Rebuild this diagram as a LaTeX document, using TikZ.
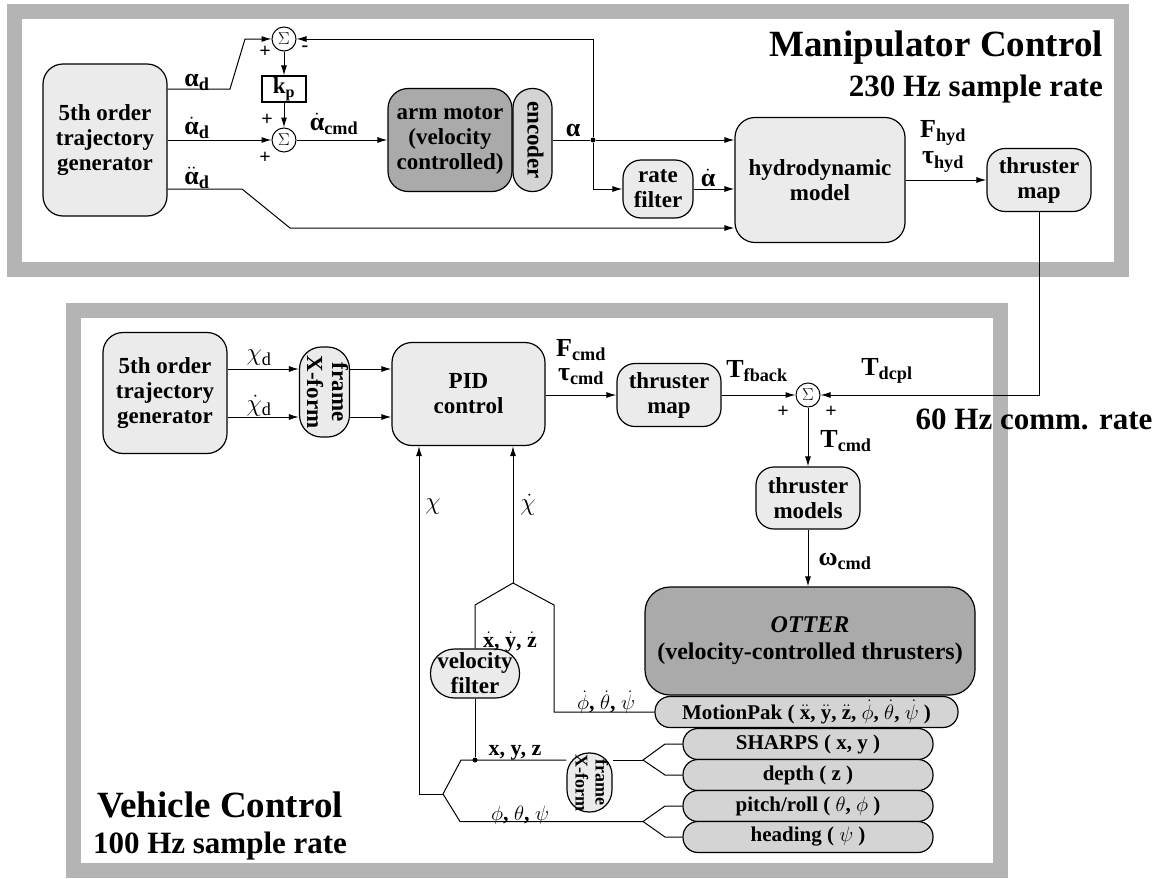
\documentclass[tikz,border=0pt]{standalone}
\usepackage{amsmath,bm}
\usepackage{fontspec}
\setmainfont{Liberation Serif}
\usetikzlibrary{arrows.meta}
\definecolor{framegray}{RGB}{180,180,180}
\definecolor{boxlight}{RGB}{235,235,235}
\definecolor{boxmid}{RGB}{212,212,212}
\definecolor{boxdark}{RGB}{170,170,170}
\newcommand{\sidetext}[1]{\rotatebox{-90}{\begin{tabular}{@{}c@{}}#1\end{tabular}}}

\begin{document}
\begin{tikzpicture}[x=1pt,y=-1pt,>={Latex[length=10pt,width=6pt]}]
\tikzset{
  every node/.style={font=\fontsize{23}{25}\selectfont\bfseries,align=center,inner sep=0pt},
  blk/.style={draw,line width=1.2pt,fill=boxlight,rounded corners=20pt},
  darkblk/.style={blk,fill=boxdark},
  sensor/.style={draw,line width=1.2pt,fill=boxmid,rounded corners=15pt,minimum width=250pt,minimum height=31pt,font=\fontsize{21}{23}\selectfont\bfseries},
  sumnode/.style={draw,line width=1pt,circle,fill=white,minimum size=24pt,font=\fontsize{17}{17}\selectfont},
  lbl/.style={font=\fontsize{26}{28}\selectfont\bfseries},
  slbl/.style={font=\fontsize{22}{24}\selectfont\bfseries},
  sgn/.style={font=\fontsize{20}{20}\selectfont\bfseries},
  dot/.style={circle,fill,minimum size=5pt},
  conn/.style={line width=1pt},
  frm/.style={draw=framegray,line width=15pt},
  bigttl/.style={font=\fontsize{37}{40}\selectfont\bfseries},
  smallttl/.style={font=\fontsize{31}{33}\selectfont\bfseries}
}
\useasboundingbox (0,0) rectangle (1158,878);

% frames
\draw[frm] (14.5,11.5) rectangle (1121.5,269.5);
\draw[frm] (73.5,310) rectangle (1000.5,870.5);

% manipulator control
\node[blk,minimum width=124pt,minimum height=152pt] (gen1) at (105,140) {5th order\\trajectory\\generator};
\node[sumnode] (sumA) at (284,39) {$\Sigma$};
\node[draw,line width=1.1pt,fill=white,minimum width=44pt,minimum height=26pt] (kp) at (284,89) {k$_\text{p}$};
\node[sumnode] (sumB) at (284,140) {$\Sigma$};
\node[darkblk,minimum width=124pt,minimum height=103pt] (arm) at (450,140) {arm motor\\(velocity\\controlled)};
\node[blk,fill=boxmid,rounded corners=19pt,minimum width=39pt,minimum height=103pt] (enc) at (532.5,140) {\sidetext{encoder}};
\node[dot] (jA) at (593,140) {};
\node[blk,minimum width=70pt,minimum height=58pt,rounded corners=18pt] (rate) at (658,189) {rate\\filter};
\node[blk,minimum width=170pt,minimum height=125pt] (hydro) at (820,180) {hydrodynamic\\model};
\node[blk,minimum width=104pt,minimum height=63pt,rounded corners=18pt] (tmapA) at (1039,180) {thruster\\map};

\coordinate (arow) at (0,89);
\coordinate (addrow) at (0,189);
\coordinate (adA) at (230,89);
\coordinate (adB) at (245,39);
\coordinate (addA) at (242,189);
\coordinate (addB) at (290,228);

\draw[conn,->] (gen1.east |- arow) -- (adA) -- (adB) -- (sumA);
\draw[conn,->] (gen1) -- (sumB);
\draw[conn,->] (gen1.east |- addrow) -- (addA) -- (addB) -- (hydro.west |- addB);
\draw[conn,->] (sumA) -- (kp);
\draw[conn,->] (kp) -- (sumB);
\draw[conn,->] (sumB) -- (arm);
\draw[conn] (enc) -- (jA);
\draw[conn,->] (jA) -- (hydro.west |- jA);
\draw[conn,->] (jA) |- (sumA);
\draw[conn,->] (jA) |- (rate);
\draw[conn,->] (rate) -- (hydro.west |- rate);
\draw[conn,->] (hydro) -- (tmapA);

\node[lbl] at (197,82) {α$_\text{d}$};
\node[lbl] at (197,128) {$\dot{\text{α}}_\text{d}$};
\node[lbl] at (197,178) {$\ddot{\text{α}}_\text{d}$};
\node[lbl] at (334,124) {$\dot{\text{α}}_\text{cmd}$};
\node[lbl] at (573,130) {α};
\node[lbl] at (708,178) {$\dot{\text{α}}$};
\node[lbl] at (943,133) {F$_\text{hyd}$};
\node[lbl] at (943,162) {τ$_\text{hyd}$};
\node[sgn] at (265,52) {+};
\node[sgn] at (305,49) {-};
\node[sgn] at (267,120) {+};
\node[sgn] at (265,158) {+};

\node[bigttl,anchor=base east] at (1103,56) {Manipulator Control};
\node[smallttl,anchor=base east] at (1103,96) {230 Hz sample rate};

% vehicle control
\node[blk,minimum width=124pt,minimum height=121pt] (gen2) at (165,393) {5th order\\trajectory\\generator};
\node[blk,minimum width=45pt,minimum height=90pt,rounded corners=22pt] (frmA) at (324.5,392) {\sidetext{frame\\X-form}};
\node[blk,minimum width=153pt,minimum height=103pt] (pid) at (468.5,394) {PID\\control};
\node[blk,minimum width=104pt,minimum height=63pt,rounded corners=18pt] (tmapB) at (669,395) {thruster\\map};
\node[sumnode] (sumC) at (808,395) {$\Sigma$};
\node[blk,minimum width=104pt,minimum height=62pt,rounded corners=18pt] (tmods) at (808,498) {thruster\\models};
\node[darkblk,minimum width=330pt,minimum height=108pt,rounded corners=25pt,font=\fontsize{24}{27}\selectfont\bfseries] (otter) at (810,641) {\textit{OTTER}\\(velocity-controlled thrusters)};
\node[sensor,minimum width=303pt] (mpak) at (806.5,712) {MotionPak ( $\ddot{\text{x}}$, $\ddot{\text{y}}$, $\ddot{\text{z}}$, $\dot\phi$, $\dot\theta$, $\dot\psi$ )};
\node[sensor] (sharps) at (808,744) {SHARPS ( x, y )};
\node[sensor] (depth) at (808,775) {depth ( z )};
\node[sensor] (pitch) at (808,806) {pitch/roll ( $\theta$, $\phi$ )};
\node[sensor] (heading) at (808,837) {heading ( $\psi$ )};
\node[blk,minimum width=89pt,minimum height=49pt,rounded corners=24pt] (vfilt) at (475,673.5) {velocity\\filter};
\node[blk,minimum width=45pt,minimum height=59pt,rounded corners=22pt,font=\fontsize{18}{20}\selectfont\bfseries] (frmB) at (589.5,782.5) {\sidetext{frame\\X-form}};
\node[dot] (jB) at (475,760) {};

\coordinate (xrow) at (0,369);
\coordinate (xdrow) at (0,417);
\coordinate (xcol) at (419,0);
\coordinate (xdapex) at (513,583);
\coordinate (xdleft) at (475,605);
\coordinate (xdright) at (554,605);
\coordinate (xfork) at (443,794);
\coordinate (xup) at (461,760);
\coordinate (xdown) at (460,821.5);
\coordinate (sfork) at (643,760);
\coordinate (sA) at (665,744);
\coordinate (sB) at (665,775);
\coordinate (pfork) at (643,821.5);
\coordinate (pA) at (665,806);
\coordinate (pB) at (665,837);

\draw[conn,->] (gen2.east |- xrow) -- (frmA.west |- xrow);
\draw[conn,->] (gen2.east |- xdrow) -- (frmA.west |- xdrow);
\draw[conn,->] (frmA.east |- xrow) -- (pid.west |- xrow);
\draw[conn,->] (frmA.east |- xdrow) -- (pid.west |- xdrow);
\draw[conn,->] (pid.east |- tmapB) -- (tmapB);
\draw[conn,->] (tmapB) -- (sumC);
\draw[conn,->] (tmapA) |- (sumC);
\draw[conn,->] (sumC) -- (tmods);
\draw[conn,->] (tmods) -- (tmods |- otter.north);

\draw[conn,->] (xdapex) -- (xdapex |- pid.south);
\draw[conn] (vfilt) -- (xdleft) -- (xdapex) -- (xdright) |- (mpak);
\draw[conn] (jB) -- (vfilt);
\draw[conn] (xfork) -- (xup) -- (frmB.west |- xup);
\draw[conn] (frmB.east |- xup) -- (sfork);
\draw[conn] (sharps) -- (sA) -- (sfork) -- (sB) -- (depth);
\draw[conn] (xfork) -- (xdown) -- (pfork);
\draw[conn] (pitch) -- (pA) -- (pfork) -- (pB) -- (heading);
\draw[conn,->] (xfork) -| (xcol |- pid.south);

\node[lbl] at (259,358) {$\chi_\mathrm{d}$};
\node[lbl] at (259,406) {$\dot\chi_\mathrm{d}$};
\node[lbl] at (581,350) {F$_\text{cmd}$};
\node[lbl] at (581,377) {τ$_\text{cmd}$};
\node[lbl] at (757,371) {T$_\text{fback}$};
\node[lbl] at (887,371) {T$_\text{dcpl}$};
\node[lbl] at (846,441) {T$_\text{cmd}$};
\node[lbl] at (845,561) {ω$_\text{cmd}$};
\node[lbl] at (433,507) {$\chi$};
\node[lbl] at (528,505) {$\dot\chi$};
\node[slbl] at (510,642) {$\dot{\text{x}}$, $\dot{\text{y}}$, $\dot{\text{z}}$};
\node[slbl] at (606,702) {$\dot\phi$, $\dot\theta$, $\dot\psi$};
\node[slbl] at (515,753) {x, y, z};
\node[slbl] at (520,815) {$\phi$, $\theta$, $\psi$};
\node[sgn] at (783,412) {+};
\node[sgn] at (831,412) {+};

\node[bigttl,anchor=base] at (220,817) {Vehicle Control};
\node[smallttl,anchor=base] at (220,853) {100 Hz sample rate};
\node[smallttl,anchor=base] at (1034,429) {60 Hz comm. rate};
\end{tikzpicture}
\end{document}
